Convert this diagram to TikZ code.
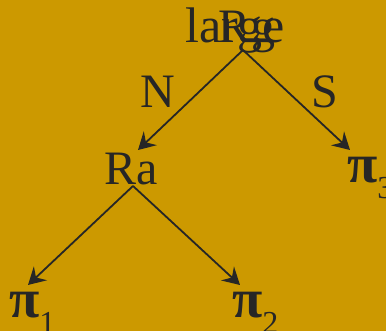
\documentclass[tikz,border=0pt]{standalone}
\usepackage{fontspec}
\setmainfont{Liberation Serif}
\usetikzlibrary{arrows.meta}
\definecolor{bgc}{RGB}{204,153,0}
\definecolor{ink}{RGB}{38,38,38}
\newcommand{\pisub}[1]{\scalebox{1.15}{\textbf{π}}\raisebox{-0.32em}{\fontsize{32}{32}\selectfont #1}}
\begin{document}
\begin{tikzpicture}[x=1pt,y=-1pt,
  lbl/.style={inner sep=0pt,anchor=base,text=ink,font=\fontsize{48}{58}\selectfont},
  leaf/.style={inner sep=0pt,anchor=base west,text=ink,font=\fontsize{48}{58}\selectfont},
  edge/.style={draw=ink,line width=1.8pt,-{Stealth[length=17pt,width=19pt,inset=6pt]}}]
\fill[bgc] (0,0) rectangle (386,331);
\useasboundingbox (0,0) rectangle (386,331);
\node[lbl,font=\fontsize{50}{60}\selectfont] (large) at (235,43) {large};
\node[lbl] (rg) at (247,43) {Rg};
\node[lbl] (ra) at (131.5,185) {Ra};
\node[leaf] (p3) at (347,183) {\pisub{3}};
\node[leaf] (p1) at (9,318) {\pisub{1}};
\node[leaf] (p2) at (232,318) {\pisub{2}};
\node[lbl] (n) at (158,108) {N};
\node[lbl] (s) at (325,108) {S};
\coordinate (top) at (243,50);
\coordinate (raout) at (133,186);
\coordinate (rain) at (138,150);
\coordinate (p3in) at (350,150);
\coordinate (p1in) at (28,285);
\coordinate (p2in) at (240,285);
\draw[edge] (top) -- (rain);
\draw[edge] (top) -- (p3in);
\draw[edge] (raout) -- (p1in);
\draw[edge] (raout) -- (p2in);
\end{tikzpicture}
\end{document}
